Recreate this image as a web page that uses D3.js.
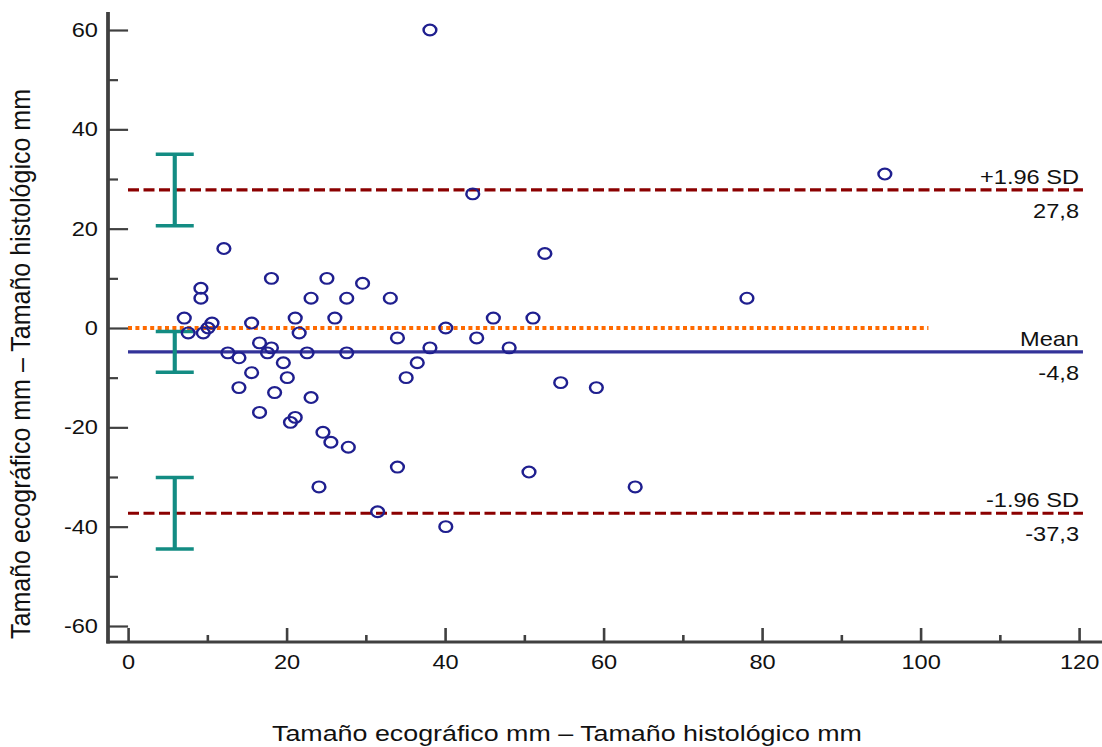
<!DOCTYPE html>
<html>
<head>
<meta charset="utf-8">
<script src="https://cdn.jsdelivr.net/npm/d3@7.9.0/dist/d3.min.js"></script>
<style>
  html, body { margin: 0; padding: 0; background: #fff; }
  svg { display: block; font-family: "Liberation Sans", Arial, sans-serif; }
</style>
</head>
<body>
<svg id="chart" width="1102" height="747"></svg>
<script>
// data
const xVals = [12.1, 18.1, 25.1, 29.6, 9.2, 9.2, 23.1, 27.6, 33.1, 7.1,
  21.1, 26.1, 46.1, 51.1, 10.6, 15.6, 10.1, 40.1, 7.6, 9.5,
  21.6, 34.0, 44.0, 16.6, 18.1, 38.1, 48.1, 12.6, 17.6, 22.6,
  27.6, 14.0, 19.6, 36.5, 15.6, 20.1, 35.1, 54.6, 14.0, 59.1,
  18.5, 23.1, 16.6, 21.1, 20.5, 24.6, 25.6, 27.8, 34.0, 50.6,
  24.1, 64.0, 31.5, 40.1, 38.1, 95.5, 43.5, 52.6, 78.1];
const yVals = [16, 10, 10, 9, 8, 6, 6, 6, 6, 2,
  2, 2, 2, 2, 1, 1, 0, 0, -1, -1,
  -1, -2, -2, -3, -4, -4, -4, -5, -5, -5,
  -5, -6, -7, -7, -9, -10, -10, -11, -12, -12,
  -13, -14, -17, -18, -19, -21, -23, -24, -28, -29,
  -32, -32, -37, -40, 60, 31, 27, 15, 6];

const refLines = [
  { name: "+1.96 SD", value: 27.8, label: "27,8", ci: [20.6, 35.0], kind: "sd" },
  { name: "Mean", value: -4.8, label: "-4,8", ci: [-8.9, -0.7], kind: "mean" },
  { name: "-1.96 SD", value: -37.3, label: "-37,3", ci: [-44.5, -30.1], kind: "sd" }
];
const xTicks = [0, 20, 40, 60, 80, 100, 120];
const xMinor = [10, 30, 50, 70, 90, 110];
const yTicks = [-60, -40, -20, 0, 20, 40, 60];
const yMinor = [-50, -30, -10, 10, 30, 50];
const xTitle = "Tamaño ecográfico mm – Tamaño histológico mm";
const yTitle = "Tamaño ecográfico mm – Tamaño histológico mm";

// the original picture is stretched sideways, so draw in a narrower box
const s = 1.18;
const W = 1102 / s, H = 747;
const svg = d3.select("#chart")
  .attr("viewBox", `0 0 ${W} ${H}`)
  .attr("preserveAspectRatio", "none");

const x = d3.scaleLinear().domain([0, 120]).range([128 / s, 1079 / s]);
const y = d3.scaleLinear().domain([-60, 60]).range([626, 30]);
const axisX = 108 / s, axisY = 642;
const axisCol = "#404040";

// zero line (dotted)
svg.append("line")
  .attr("x1", x(0)).attr("x2", x(101))
  .attr("y1", y(0)).attr("y2", y(0))
  .attr("stroke", "#ff6a00").attr("stroke-width", 4)
  .attr("stroke-dasharray", `${4 / s},${3.4 / s}`);

// mean and limits
svg.selectAll("line.ref")
  .data(refLines)
  .join("line")
  .attr("class", "ref")
  .attr("x1", x(0)).attr("x2", x(120.5))
  .attr("y1", d => y(d.value)).attr("y2", d => y(d.value))
  .attr("stroke", d => d.kind === "mean" ? "#333399" : "#8b0000")
  .attr("stroke-width", 3.2)
  .attr("stroke-dasharray", d => d.kind === "mean" ? null : `${11 / s},${4.5 / s}`);

// confidence bars
const ciX = 5.9, capHalf = 19 / s;
const ci = svg.append("g").attr("stroke", "#138c83").attr("stroke-width", 3.5).attr("fill", "none");
refLines.forEach(d => {
  ci.append("line").attr("x1", x(ciX)).attr("x2", x(ciX))
    .attr("y1", y(d.ci[0])).attr("y2", y(d.ci[1]));
  d.ci.forEach(v => {
    ci.append("line").attr("x1", x(ciX) - capHalf).attr("x2", x(ciX) + capHalf)
      .attr("y1", y(v)).attr("y2", y(v));
  });
});

// labels on the right
const lab = svg.append("g").attr("font-size", 20).attr("fill", "#111").attr("text-anchor", "end");
refLines.forEach(d => {
  lab.append("text").attr("x", x(120)).attr("y", y(d.value) - 6).text(d.name);
  lab.append("text").attr("x", x(120)).attr("y", y(d.value) + 28).text(d.label);
});

// points
svg.append("g")
  .selectAll("circle")
  .data(xVals.map((v, i) => [v, yVals[i]]))
  .join("circle")
  .attr("cx", d => x(d[0]))
  .attr("cy", d => y(d[1]))
  .attr("r", 5.4)
  .attr("fill", "none")
  .attr("stroke", "#1f1f8f")
  .attr("stroke-width", 2.1);

// axes
const fmt = d => String(d);
svg.append("g").attr("transform", `translate(${axisX},0)`)
  .call(d3.axisLeft(y).tickValues(yTicks).tickSizeInner(-17).tickSizeOuter(0).tickPadding(8.5).tickFormat(fmt));
svg.append("g").attr("transform", `translate(${axisX},0)`)
  .call(d3.axisLeft(y).tickValues(yMinor).tickSizeInner(-8.5).tickSizeOuter(0).tickFormat(""));
svg.append("g").attr("transform", `translate(0,${axisY})`)
  .call(d3.axisBottom(x).tickValues(xTicks).tickSizeInner(-14).tickSizeOuter(0).tickPadding(13).tickFormat(fmt));
svg.append("g").attr("transform", `translate(0,${axisY})`)
  .call(d3.axisBottom(x).tickValues(xMinor).tickSizeInner(-7).tickSizeOuter(0).tickFormat(""));

svg.selectAll(".domain").remove();
svg.selectAll(".tick line").attr("stroke", axisCol).attr("stroke-width", 2.2);
svg.selectAll(".tick text").attr("font-size", 20).attr("fill", "#111")
  .attr("font-family", "'Liberation Sans', Arial, sans-serif");

svg.append("line").attr("x1", axisX).attr("x2", axisX).attr("y1", 12).attr("y2", axisY + 1.5)
  .attr("stroke", axisCol).attr("stroke-width", 3.2);
svg.append("line").attr("x1", axisX - 1.3).attr("x2", W).attr("y1", axisY).attr("y2", axisY)
  .attr("stroke", axisCol).attr("stroke-width", 3.2);

// titles
svg.append("text")
  .attr("x", 567 / s).attr("y", 741)
  .attr("text-anchor", "middle").attr("font-size", 22).attr("fill", "#111")
  .attr("textLength", 590 / s).attr("lengthAdjust", "spacingAndGlyphs")
  .text(xTitle);
svg.append("text")
  .attr("transform", `translate(${30 / s},364) rotate(-90)`)
  .attr("text-anchor", "middle").attr("font-size", 23).attr("fill", "#111")
  .attr("textLength", 550).attr("lengthAdjust", "spacingAndGlyphs")
  .text(yTitle);
</script>
</body>
</html>
